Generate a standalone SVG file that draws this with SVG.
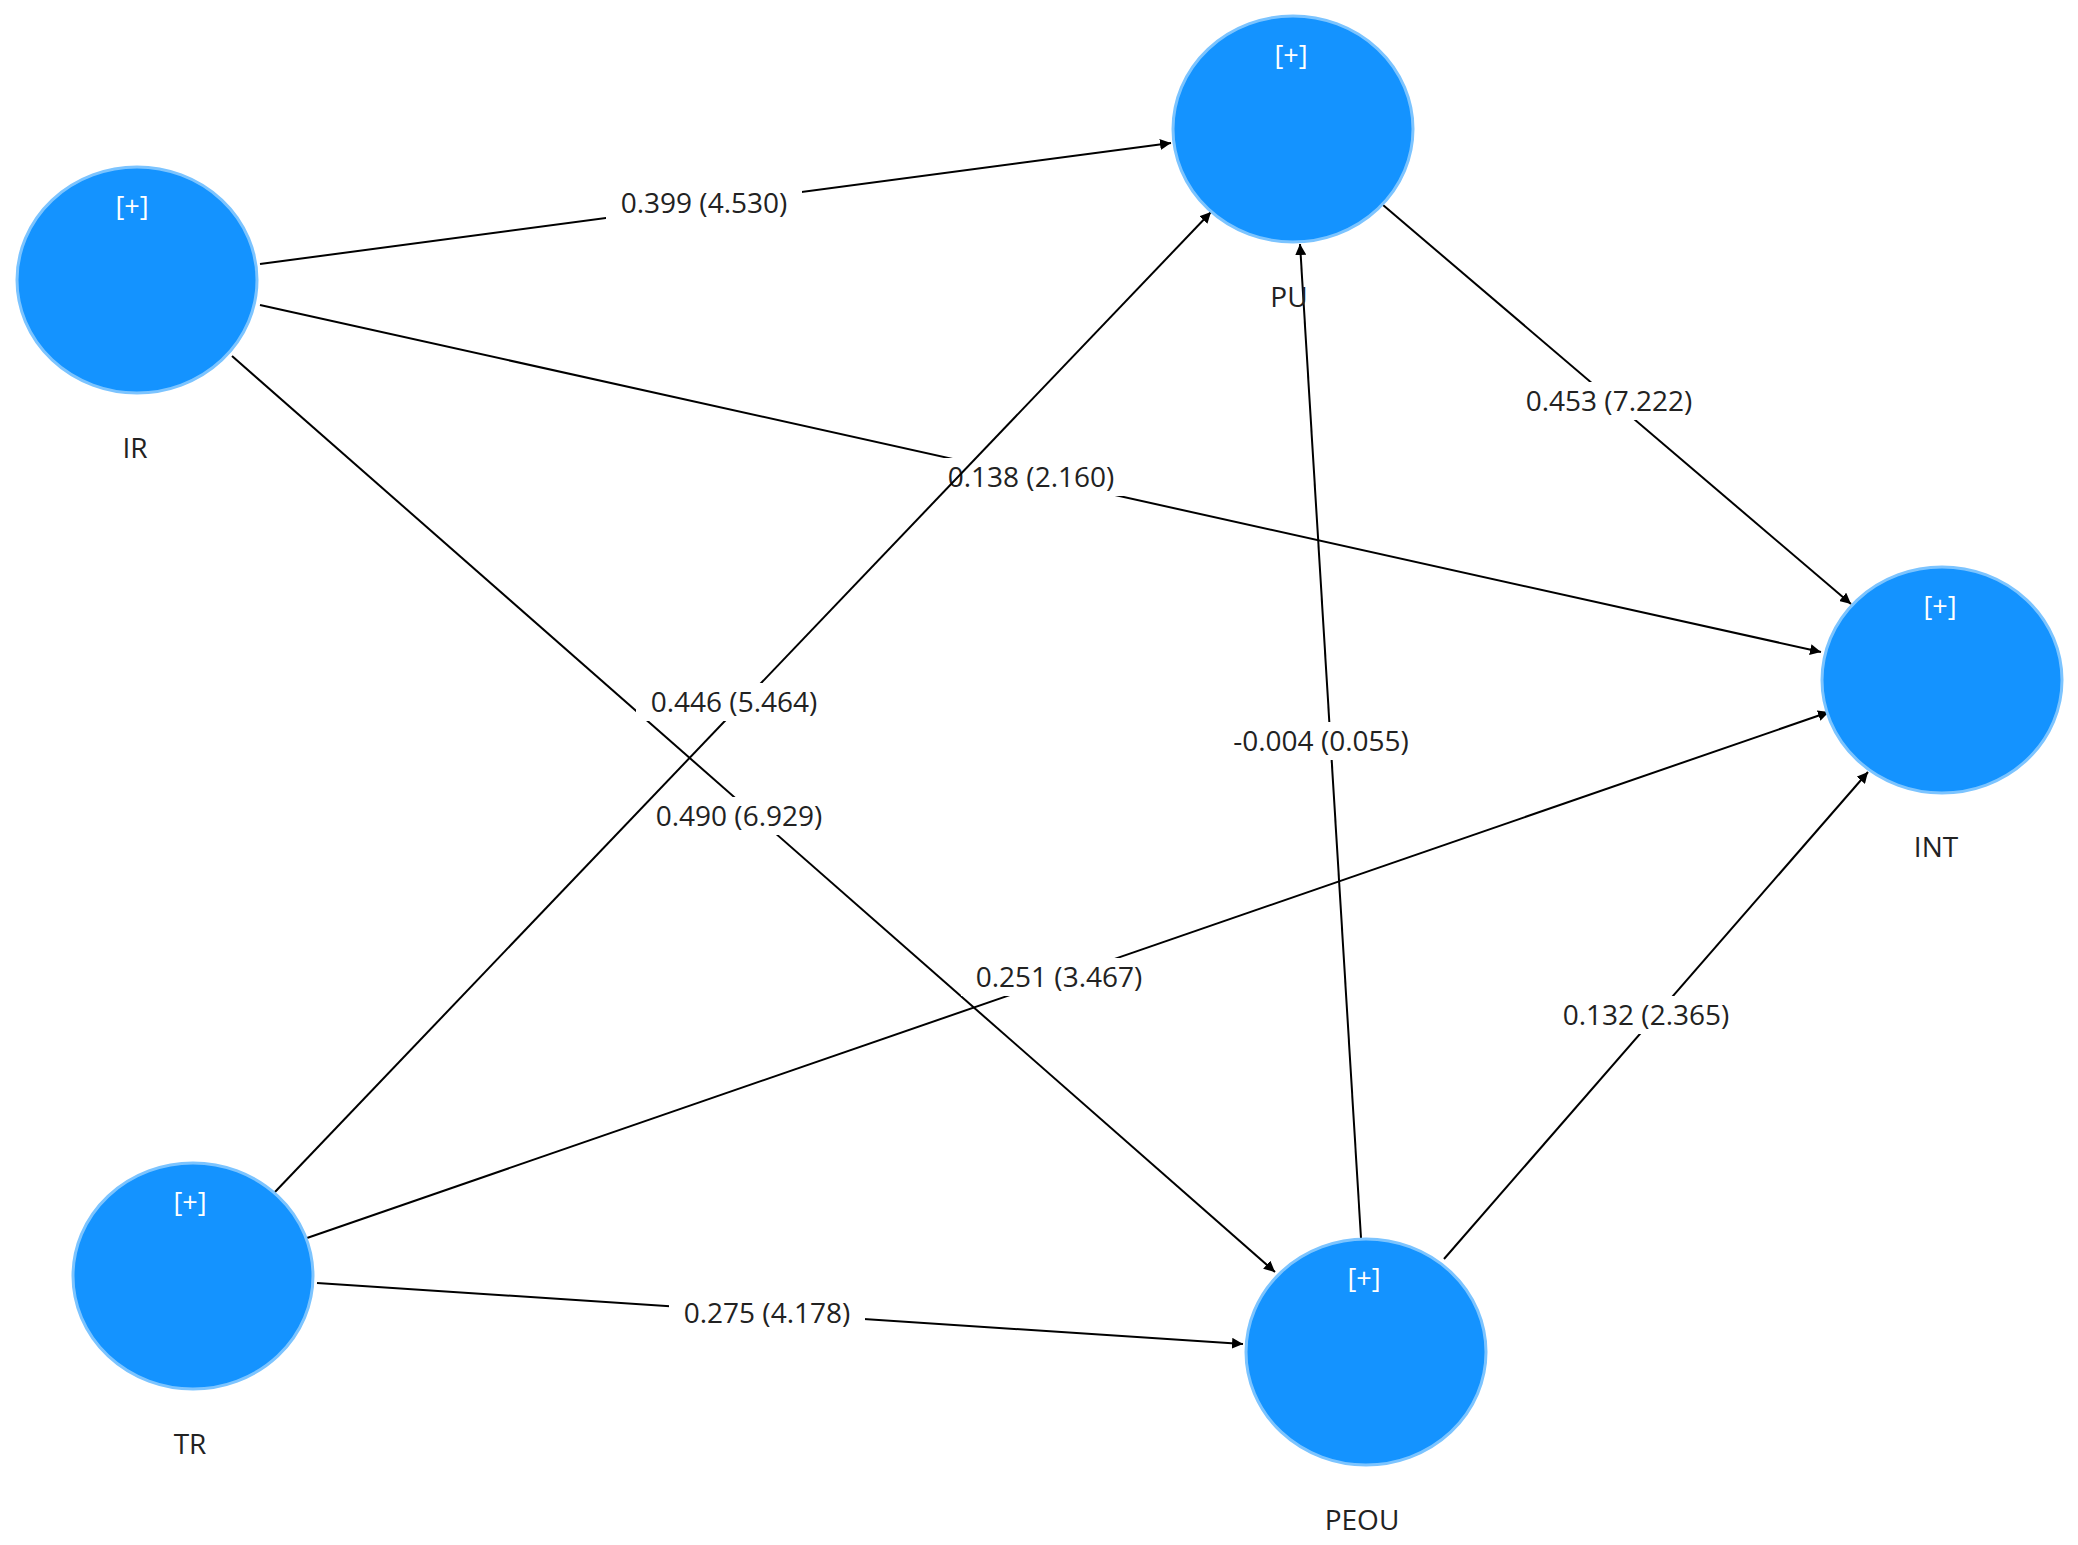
<svg xmlns="http://www.w3.org/2000/svg" width="2078" height="1545" viewBox="0 0 2078 1545">
<style>
.n{fill:#1493FF;stroke:#7CC4FF;stroke-width:3}
.p{font-family:"Open Sans","Liberation Sans",sans-serif;font-size:27px;fill:#fff;text-anchor:middle}
.t{font-family:"Open Sans","Liberation Sans",sans-serif;font-size:28px;fill:#222;text-anchor:middle}
.e{stroke:#000;stroke-width:2;fill:none;marker-end:url(#a)}
.b{fill:#fff}
</style>
<defs><marker id="a" viewBox="0 0 10 10" refX="10" refY="5" markerWidth="11" markerHeight="11" markerUnits="userSpaceOnUse" orient="auto"><path d="M0,0L10,5L0,10z" fill="#000"/></marker></defs>
<rect width="2078" height="1545" fill="#fff"/>
<g id="connectors">
<line class="e" x1="260" y1="264" x2="1171" y2="143"/><rect class="b" x="606" y="184" width="196" height="38"/><text class="t" x="704" y="213">0.399 (4.530)</text>
<line class="e" x1="260" y1="305" x2="1821" y2="652"/><rect class="b" x="933" y="458" width="196" height="38"/><text class="t" x="1031" y="487">0.138 (2.160)</text>
<line class="e" x1="232" y1="356" x2="1275" y2="1272"/><rect class="b" x="641" y="797" width="196" height="38"/><text class="t" x="739" y="826">0.490 (6.929)</text>
<line class="e" x1="274" y1="1193" x2="1211" y2="212"/><rect class="b" x="636" y="683" width="196" height="38"/><text class="t" x="734" y="712">0.446 (5.464)</text>
<line class="e" x1="307" y1="1238" x2="1829" y2="712"/><rect class="b" x="961" y="958" width="196" height="38"/><text class="t" x="1059" y="987">0.251 (3.467)</text>
<line class="e" x1="317" y1="1283" x2="1243" y2="1344"/><rect class="b" x="669" y="1294" width="196" height="38"/><text class="t" x="767" y="1323">0.275 (4.178)</text>
<line class="e" x1="1383" y1="205" x2="1851" y2="604"/><rect class="b" x="1511" y="382" width="196" height="38"/><text class="t" x="1609" y="411">0.453 (7.222)</text>
<line class="e" x1="1361" y1="1238" x2="1300" y2="244"/><rect class="b" x="1220" y="722" width="202" height="38"/><text class="t" x="1321" y="751">-0.004 (0.055)</text>
<line class="e" x1="1444" y1="1259" x2="1868" y2="772"/><rect class="b" x="1548" y="996" width="196" height="38"/><text class="t" x="1646" y="1025">0.132 (2.365)</text>
</g>
<g id="IR"><ellipse class="n" cx="137" cy="280" rx="120" ry="113"/><text class="p" x="132" y="216">[+]</text><text class="t" x="135" y="458">IR</text></g>
<g id="PU"><ellipse class="n" cx="1293" cy="129" rx="120" ry="113"/><text class="p" x="1291" y="65">[+]</text><text class="t" x="1289" y="307">PU</text></g>
<g id="INT"><ellipse class="n" cx="1942" cy="680" rx="120" ry="113"/><text class="p" x="1940" y="616">[+]</text><text class="t" x="1936" y="857">INT</text></g>
<g id="TR"><ellipse class="n" cx="193" cy="1276" rx="120" ry="113"/><text class="p" x="190" y="1212">[+]</text><text class="t" x="190" y="1454">TR</text></g>
<g id="PEOU"><ellipse class="n" cx="1366" cy="1352" rx="120" ry="113"/><text class="p" x="1364" y="1288">[+]</text><text class="t" x="1362" y="1530">PEOU</text></g>
</svg>
